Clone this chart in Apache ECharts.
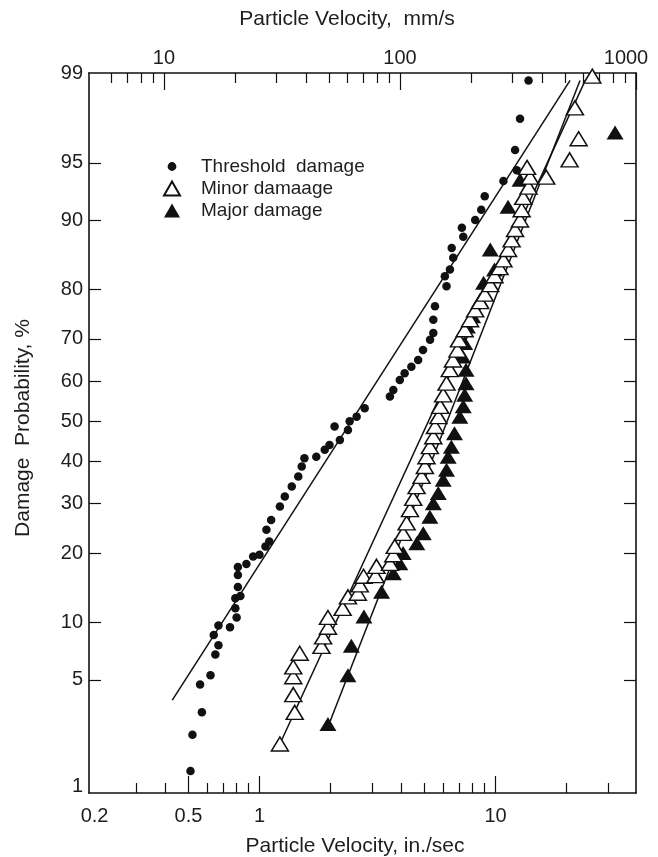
<!DOCTYPE html>
<html><head><meta charset="utf-8">
<script src="https://cdn.jsdelivr.net/npm/echarts@6/dist/echarts.min.js"></script>
<style>html,body{margin:0;padding:0;background:#fff}#c{width:658px;height:857px}</style>
</head><body><div id="c"></div>
<script>
// ---------- data (velocity in in./sec, probability in %) ----------
const thresholdV = [0.51,0.52,0.57,0.56,0.62,0.65,0.67,0.64,0.67,0.75,0.80,0.79,0.79,0.83,0.81,0.81,0.81,0.88,0.94,1.00,1.06,1.10,1.07,1.12,1.22,1.28,1.37,1.46,1.51,1.55,1.74,1.89,1.98,2.19,2.08,2.37,2.41,2.58,2.79,3.57,3.69,3.93,4.12,4.40,4.70,4.93,5.28,5.45,5.45,5.54,6.20,6.10,6.41,6.62,6.52,7.30,7.20,8.20,8.70,9.00,10.8,12.3,12.1,12.7,13.8];
const thresholdP = [1.3,2.3,3.2,4.7,5.3,6.9,7.7,8.7,9.7,9.5,10.6,11.7,13.0,13.3,14.6,16.4,17.7,18.2,19.5,19.8,21.3,22.2,24.5,26.5,29.4,31.6,33.9,36.3,38.7,40.7,41.1,42.8,44.0,45.3,48.7,47.8,50.0,51.2,53.3,56.3,57.9,60.4,62.0,63.6,65.2,67.5,69.8,71.3,74.1,76.8,80.5,82.2,83.3,85.1,86.5,88.0,89.1,90.0,91.1,92.4,93.7,94.5,95.8,97.3,98.5];

const minorV = [1.22,1.41,1.39,1.39,1.39,1.48,1.83,1.86,1.95,1.95,2.25,2.37,2.61,2.66,2.76,3.10,3.13,3.57,3.69,3.74,4.06,4.20,4.34,4.48,4.63,4.86,5.02,5.10,5.27,5.45,5.54,5.73,5.83,6.00,6.20,6.40,6.60,6.90,7.00,7.40,7.80,8.20,8.60,9.00,9.50,9.90,10.4,10.8,11.3,11.7,12.1,12.7,12.9,13.1,13.8,14.0,13.6,16.4,20.6,22.5,21.7,25.7];
const minorP = [2.0,3.2,4.1,5.2,5.9,7.0,7.6,8.5,9.5,10.6,11.7,13.2,13.7,14.9,16.2,16.3,17.8,18.3,19.8,21.3,23.8,25.9,28.7,31.2,33.9,36.3,38.7,41.1,43.6,46.1,48.7,51.2,53.8,56.7,59.6,62.9,65.2,67.5,69.8,72.0,74.1,76.1,77.7,79.1,80.8,82.3,83.6,84.8,86.3,87.6,88.9,90.0,91.1,92.3,93.2,94.0,94.7,94.0,95.2,96.4,97.7,98.6];

const majorV = [1.95,2.37,2.45,2.77,3.29,3.69,3.93,4.06,4.64,4.94,5.27,5.45,5.72,6.00,6.20,6.30,6.50,6.70,7.06,7.30,7.40,7.50,7.50,7.26,7.40,7.60,8.00,8.60,8.90,9.90,9.50,11.3,12.7,32.1];
const majorP = [2.7,5.3,7.65,10.7,13.9,16.7,18.3,20.1,21.9,23.8,27.2,30.1,32.4,35.5,37.9,41.1,43.6,47.0,51.2,53.8,56.7,59.6,62.9,66.0,69.1,72.7,74.8,78.0,81.1,83.3,86.3,91.4,93.8,96.7];

// fitted lines (end points)
const thresholdFitV = [0.427, 20.7];
const thresholdFitP = [3.8, 98.5];
const minorFitV = [1.22, 24.0];
const minorFitP = [2.0, 98.5];
const majorFitV = [1.99, 22.8];
const majorFitP = [2.8, 98.5];

// tick values
const bottomLabelVals = [0.2, 0.5, 1, 10];
const bottomMajorTickVals = [0.5, 1, 10];
const bottomMinorTickVals = [0.3,0.4,0.6,0.7,0.8,0.9,2,3,4,5,6,7,8,9,20,30];
const topLabelVals = [10, 100, 1000];
const topMajorTickVals = [10, 100, 1000];
const topMinorTickVals = [6,7,8,9,20,30,40,50,60,70,80,90,200,300,400,500,600,700,800,900];
const probLabelVals = [1,5,10,20,30,40,50,60,70,80,90,95,99];
const probTickVals = [5,10,20,30,40,50,60,70,80,90,95];

// axis ranges
const xMinIn = 0.1895;
const xMaxMm = 1000;
const MM_PER_IN = 25.4;
const yMinPct = 0.9, yMaxPct = 98.67;

// ---------- helpers ----------
function probit(p){
  const a=[-3.969683028665376e+01,2.209460984245205e+02,-2.759285104469687e+02,1.383577518672690e+02,-3.066479806614716e+01,2.506628277459239e+00];
  const b=[-5.447609879822406e+01,1.615858368580409e+02,-1.556989798598866e+02,6.680131188771972e+01,-1.328068155288572e+01];
  const c=[-7.784894002430293e-03,-3.223964580411365e-01,-2.400758277161838e+00,-2.549732539343734e+00,4.374664141464968e+00,2.938163982698783e+00];
  const d=[7.784695709041462e-03,3.224671290700398e-01,2.445134137142996e+00,3.754408661907416e+00];
  const pl=0.02425, ph=1-pl; let q,r;
  if(p<pl){q=Math.sqrt(-2*Math.log(p));return (((((c[0]*q+c[1])*q+c[2])*q+c[3])*q+c[4])*q+c[5])/((((d[0]*q+d[1])*q+d[2])*q+d[3])*q+1);}
  if(p<=ph){q=p-0.5;r=q*q;return (((((a[0]*r+a[1])*r+a[2])*r+a[3])*r+a[4])*r+a[5])*q/(((((b[0]*r+b[1])*r+b[2])*r+b[3])*r+b[4])*r+1);}
  q=Math.sqrt(-2*Math.log(1-p));return -(((((c[0]*q+c[1])*q+c[2])*q+c[3])*q+c[4])*q+c[5])/((((d[0]*q+d[1])*q+d[2])*q+d[3])*q+1);
}
const lg = Math.log10;
const zMin = probit(yMinPct/100), zMax = probit(yMaxPct/100);
const zOf = p => Math.max(zMin, Math.min(zMax, probit(p/100)));
const pairs = (V,P) => V.map((v,i)=>[lg(v), probit(P[i]/100)]);
function fmtFrom(vals, keys){
  return function(val){
    let best=0, bd=Infinity;
    keys.forEach((k,i)=>{const dd=Math.abs(k-val); if(dd<bd){bd=dd;best=i;}});
    return String(vals[best]);
  };
}

const FONT = '"Liberation Sans", Arial, Helvetica, sans-serif';
const INK = '#111';
const TXT = '#1e1e1e';
const LBL = 20;
const axisLineStyle = {color: INK, width: 1.6};
const tickLine = {color: INK, width: 1.2};

const bxMin = lg(xMinIn), bxMax = lg(xMaxMm/MM_PER_IN);
const txMin = lg(xMinIn*MM_PER_IN), txMax = lg(xMaxMm);

const topKeys = topLabelVals.map(lg);
const topFmt = function(val){
  const s = fmtFrom(topLabelVals, topKeys)(val);
  return s === String(topLabelVals[topLabelVals.length-1]) ? '{r|' + s + '}' : s;
};

const chart = echarts.init(document.getElementById('c'), null, {renderer:'canvas'});
chart.setOption({
  animation: false,
  backgroundColor: '#fff',
  grid: {left: 89, right: 22, top: 73, bottom: 64},
  xAxis: [
    {type:'value', min:bxMin, max:bxMax, position:'bottom', splitLine:{show:false},
     axisLine:{show:true, onZero:false, lineStyle:axisLineStyle},
     axisTick:{show:true, inside:true, length:17, customValues: bottomMajorTickVals.map(lg), lineStyle:tickLine},
     axisLabel:{customValues: bottomLabelVals.map(lg), formatter: fmtFrom(bottomLabelVals, bottomLabelVals.map(lg)),
       fontSize:LBL, fontFamily:FONT, color:TXT, margin:13, showMinLabel:true, showMaxLabel:true}},
    {type:'value', min:bxMin, max:bxMax, position:'bottom', splitLine:{show:false},
     axisLine:{show:false, onZero:false},
     axisTick:{show:true, inside:true, length:10, customValues: bottomMinorTickVals.map(lg), lineStyle:tickLine},
     axisLabel:{show:false}},
    {type:'value', min:txMin, max:txMax, position:'top', splitLine:{show:false},
     axisLine:{show:true, onZero:false, lineStyle:axisLineStyle},
     axisTick:{show:true, inside:true, length:17, customValues: topMajorTickVals.map(lg), lineStyle:tickLine},
     axisLabel:{customValues: topKeys, formatter: topFmt,
       fontSize:LBL, fontFamily:FONT, color:TXT, margin:5, showMinLabel:true, showMaxLabel:true,
       rich:{r:{fontSize:LBL, fontFamily:FONT, color:TXT, padding:[0,20,0,0]}}}},
    {type:'value', min:txMin, max:txMax, position:'top', splitLine:{show:false},
     axisLine:{show:false, onZero:false},
     axisTick:{show:true, inside:true, length:10, customValues: topMinorTickVals.map(lg), lineStyle:tickLine},
     axisLabel:{show:false}}
  ],
  yAxis: [
    {type:'value', min:zMin, max:zMax, position:'left', splitLine:{show:false},
     axisLine:{show:true, onZero:false, lineStyle:axisLineStyle},
     axisTick:{show:true, inside:true, length:12, customValues: probTickVals.map(zOf), lineStyle:tickLine},
     axisLabel:{customValues: probLabelVals.map(zOf), formatter: fmtFrom(probLabelVals, probLabelVals.map(zOf)),
       fontSize:LBL, fontFamily:FONT, color:TXT, margin:6, showMinLabel:true, showMaxLabel:true}},
    {type:'value', min:zMin, max:zMax, position:'right', splitLine:{show:false},
     axisLine:{show:true, onZero:false, lineStyle:axisLineStyle},
     axisTick:{show:true, inside:true, length:12, customValues: probTickVals.map(zOf), lineStyle:tickLine},
     axisLabel:{show:false}}
  ],
  legend: {
    orient:'vertical', left:163, top:157, padding:0, itemGap:3, itemWidth:16, itemHeight:14,
    selectedMode:false,
    formatter: function(name){ return name === 'Threshold damage' ? 'Threshold  damage' : name; },
    textStyle:{fontSize:19, fontFamily:FONT, color:TXT, padding:[0,0,0,16]},
    data:[
      {name:'Threshold damage', icon:'path://M0,0M16,14M3.6,7a4.4,4.4 0 1,0 8.8,0a4.4,4.4 0 1,0 -8.8,0'},
      {name:'Minor damaage', icon:'triangle'},
      {name:'Major damage', icon:'triangle'}
    ]
  },
  graphic: [
    {type:'text', x:347, y:19, style:{text:'Particle Velocity,  mm/s', fontSize:21, fontFamily:FONT, fill:TXT, align:'center', verticalAlign:'middle'}},
    {type:'text', x:355, y:846, style:{text:'Particle Velocity, in./sec', fontSize:21, fontFamily:FONT, fill:TXT, align:'center', verticalAlign:'middle'}},
    {type:'text', x:23, y:428, rotation:Math.PI/2, style:{text:'Damage  Probability, %', fontSize:21, fontFamily:FONT, fill:TXT, align:'center', verticalAlign:'middle'}}
  ],
  series: [
    {type:'line', xAxisIndex:0, yAxisIndex:0, data:pairs(thresholdFitV, thresholdFitP), symbol:'none', silent:true, lineStyle:{color:INK, width:1.5}, z:1},
    {type:'line', xAxisIndex:0, yAxisIndex:0, data:pairs(minorFitV, minorFitP), symbol:'none', silent:true, lineStyle:{color:INK, width:1.5}, z:1},
    {type:'line', xAxisIndex:0, yAxisIndex:0, data:pairs(majorFitV, majorFitP), symbol:'none', silent:true, lineStyle:{color:INK, width:1.5}, z:1},
    {name:'Major damage', type:'scatter', xAxisIndex:0, yAxisIndex:0, data:pairs(majorV, majorP), symbol:'triangle', symbolSize:[17,14], itemStyle:{color:INK, opacity:1}, z:3},
    {name:'Minor damaage', type:'scatter', xAxisIndex:0, yAxisIndex:0, data:pairs(minorV, minorP), symbol:'triangle', symbolSize:[17,14], itemStyle:{color:'#fff', borderColor:INK, borderWidth:1.5, opacity:1}, z:4},
    {name:'Threshold damage', type:'scatter', xAxisIndex:0, yAxisIndex:0, data:pairs(thresholdV, thresholdP), symbol:'circle', symbolSize:8.5, itemStyle:{color:INK, opacity:1}, z:5}
  ]
});
</script>
</body></html>
